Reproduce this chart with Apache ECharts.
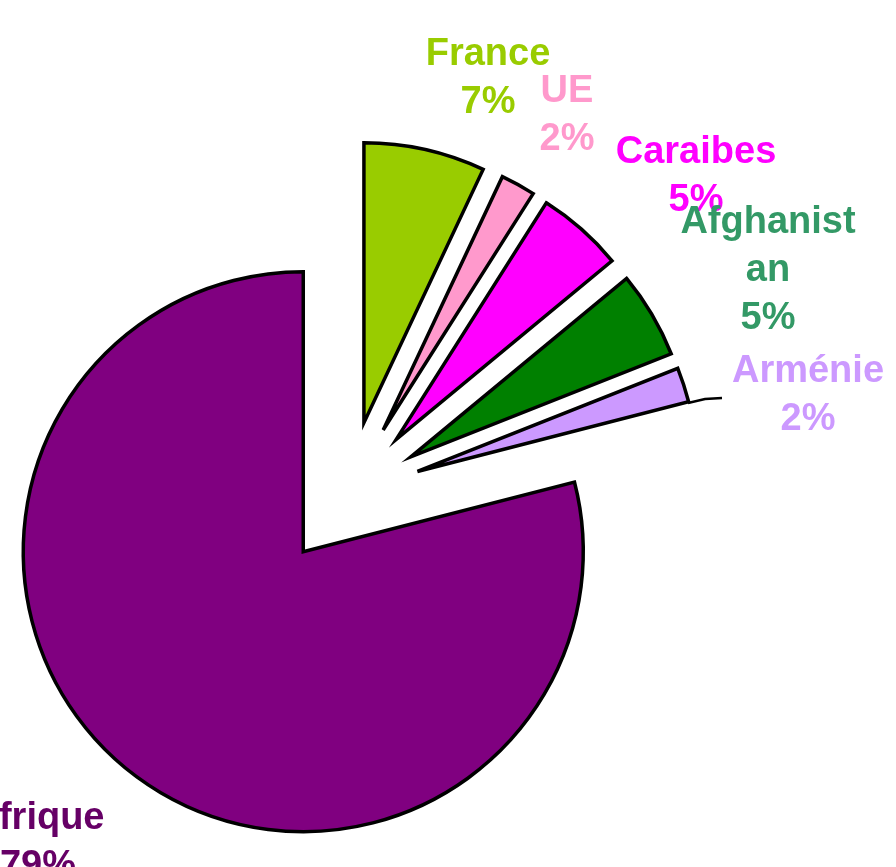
<!DOCTYPE html>
<html>
<head>
<meta charset="utf-8">
<script src="https://cdn.jsdelivr.net/npm/echarts@6/dist/echarts.min.js"></script>
<style>
html,body{margin:0;padding:0;background:#fff;}
#main{width:896px;height:867px;}
</style>
</head>
<body>
<div id="main"></div>
<script>
const categories = ['France', 'UE', 'Caraibes', 'Afghanistan', 'Arménie', 'Afrique'];
const values = [7, 2, 5, 5, 2, 79];
const sliceColors = ['#99CC00', '#FF99CC', '#FF00FF', '#008000', '#CC99FF', '#800080'];
const labelColors = ['#99CC00', '#FF99CC', '#FF00FF', '#339966', '#CC99FF', '#660066'];

// label block centers (layout only)
const labelPos = [[488, 79], [567, 116], [696, 177], [768, 271], [808, 396], [38, 843]];

const chart = echarts.init(document.getElementById('main'), null, {renderer: 'canvas'});
const total = values.reduce((a, b) => a + b, 0);

const data = categories.map((name, i) => ({
  name: name,
  value: values[i],
  selected: true,
  itemStyle: {color: sliceColors[i]}
}));

const labelGraphics = categories.map((name, i) => ({
  type: 'text',
  x: labelPos[i][0],
  y: labelPos[i][1],
  z: 100,
  style: {
    text: name + '\n' + Math.round(values[i] / total * 100) + '%',
    fill: labelColors[i],
    font: 'bold 38px "Liberation Sans", Arial, sans-serif',
    lineHeight: 48,
    align: 'center',
    verticalAlign: 'middle',
    width: name === 'Afghanistan' ? 185 : undefined,
    overflow: name === 'Afghanistan' ? 'breakAll' : undefined
  }
}));

chart.setOption({
  animation: false,
  graphic: labelGraphics.concat([{
    type: 'polyline',
    z: 90,
    shape: {points: [[688, 403], [705, 399], [722, 398]]},
    style: {stroke: '#000', lineWidth: 2.5, fill: null}
  }]),
  series: [{
    type: 'pie',
    center: [348, 494],
    radius: 280,
    startAngle: 90,
    clockwise: true,
    selectedMode: 'multiple',
    selectedOffset: 73,
    emphasis: {disabled: true},
    itemStyle: {borderColor: '#000', borderWidth: 3.5, borderJoin: 'miter'},
    label: {show: false},
    labelLine: {show: false},
    data: data
  }]
});
</script>
</body>
</html>
